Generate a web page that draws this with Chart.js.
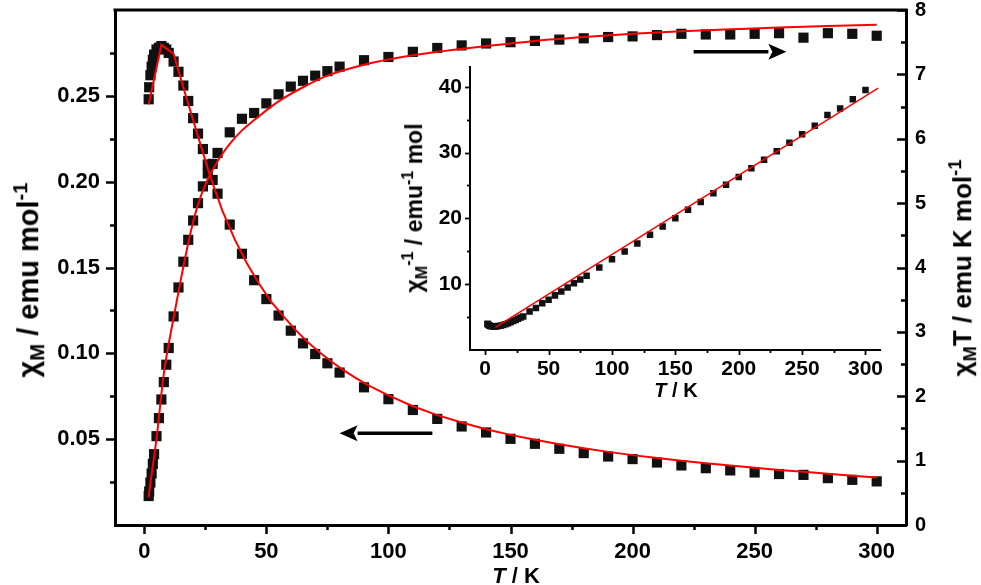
<!DOCTYPE html>
<html>
<head>
<meta charset="utf-8">
<script src="https://cdn.jsdelivr.net/npm/chart.js@4.4.1/dist/chart.umd.min.js"></script>
<style>
  html, body { margin: 0; padding: 0; background: #fff; }
  #wrap { position: relative; width: 981px; height: 585px; overflow: hidden; background: #fff; }
  #main { position: absolute; left: 0; top: 0; }
  #inset { position: absolute; left: 380px; top: 40px; }
  .t { position: absolute; font-family: "Liberation Sans", Arial, sans-serif; font-weight: bold; color: #000; white-space: nowrap; line-height: 1; }
  .rot { transform: translate(-50%, -50%) rotate(-90deg); }
  .hor { transform: translate(-50%, -50%); }
  .sb { font-size: 70%; vertical-align: -0.3em; }
  .sp { font-size: 70%; vertical-align: 0.55em; }
</style>
</head>
<body>
<div id="wrap">
  <canvas id="main" width="981" height="585"></canvas>
  <canvas id="inset" width="520" height="360"></canvas>
  <div class="t rot" id="ttlLeft" style="left:29px; top:280px; font-size:29px;">&chi;<span class="sb">M</span> / emu mol<span class="sp">-1</span></div>
  <div class="t rot" id="ttlRight" style="left:963px; top:268px; font-size:26px;">&chi;<span class="sb">M</span>T / emu K mol<span class="sp">-1</span></div>
  <div class="t hor" id="ttlX" style="left:516px; top:576px; font-size:22px;"><i>T</i> / K</div>
  <div class="t hor" id="ttlInsetX" style="left:676px; top:390px; font-size:20px;"><i>T</i> / K</div>
  <div class="t rot" id="ttlInsetY" style="left:414px; top:208px; font-size:23px;">&chi;<span class="sb">M</span><span class="sp">-1</span> / emu<span class="sp">-1</span> mol</div>
</div>
<script>
// ---------------- data ----------------
const temps = [1.8, 2, 2.5, 3, 3.5, 4, 5, 6, 7, 8, 9, 10,
  12, 14, 16, 18, 20, 22, 24, 26, 28, 30,
  35, 40, 45, 50, 55, 60, 65, 70, 75, 80,
  90, 100, 110, 120, 130, 140, 150, 160, 170, 180, 190, 200,
  210, 220, 230, 240, 250, 260, 270, 280, 290, 300];

const chiM = [0.248, 0.255, 0.262, 0.267, 0.271, 0.274, 0.277, 0.278, 0.279, 0.278, 0.277, 0.275,
  0.270, 0.264, 0.256, 0.247, 0.237, 0.228, 0.219, 0.210, 0.201, 0.193,
  0.175, 0.158, 0.1426, 0.1316, 0.122, 0.1132, 0.1058, 0.0996, 0.0942, 0.0888,
  0.0802, 0.0733, 0.067, 0.0618, 0.0574, 0.0539, 0.0502, 0.0473, 0.0444, 0.0419, 0.0399, 0.0384,
  0.0364, 0.0347, 0.0331, 0.0318, 0.0306, 0.0297, 0.0292, 0.0273, 0.0263, 0.0254];

const chiMT = [0.45, 0.52, 0.66, 0.80, 0.95, 1.10, 1.38, 1.66, 1.95, 2.22, 2.49, 2.75,
  3.24, 3.69, 4.09, 4.43, 4.73, 5.00, 5.26, 5.46, 5.61, 5.78,
  6.10, 6.31, 6.40, 6.55, 6.69, 6.81, 6.90, 6.98, 7.05, 7.12,
  7.22, 7.27, 7.35, 7.41, 7.45, 7.48, 7.50, 7.52, 7.54, 7.56, 7.58, 7.59,
  7.61, 7.63, 7.62, 7.62, 7.63, 7.64, 7.57, 7.64, 7.63, 7.60];

const invChiM = [4.0, 3.92, 3.82, 3.75, 3.69, 3.65, 3.61, 3.60, 3.58, 3.60, 3.61, 3.64,
  3.70, 3.79, 3.91, 4.05, 4.22, 4.39, 4.57, 4.76, 4.95, 5.10,
  5.85, 6.39, 7.10, 7.65, 8.30, 8.90, 9.50, 10.15, 10.70, 11.30,
  12.55, 13.80, 14.97, 16.20, 17.50, 18.76, 20.00, 21.30, 22.50, 23.80, 25.10, 26.30,
  27.60, 28.90, 30.20, 31.50, 32.80, 34.06, 35.70, 36.70, 38.10, 39.50];

// fitted curves (red)
const fitChiT = [1.8, 7, 12, 17, 22, 27, 32, 37, 42, 47, 52, 57, 62, 67, 72, 77, 82, 87, 92,
  100, 110, 120, 130, 140, 150, 160, 170, 180, 190, 200, 210, 220, 230, 240, 250, 260, 270, 280, 290, 300];
const fitChi = [0.245, 0.2797, 0.2744, 0.250, 0.2264, 0.203, 0.183, 0.1665, 0.1525, 0.1405, 0.130, 0.1215,
  0.1135, 0.1065, 0.1003, 0.0948, 0.0898, 0.0853, 0.0812,
  0.0755, 0.0692, 0.064, 0.0597, 0.0558, 0.0525, 0.0496, 0.047, 0.0447, 0.0426, 0.0407,
  0.039, 0.0374, 0.036, 0.0346, 0.0333, 0.0321, 0.031, 0.0298, 0.0287, 0.0277];

const fitChiMTT = [1.8, 2, 5, 8, 12, 15, 19, 22, 24.5, 27, 31, 35, 40, 45, 55, 65, 75, 90, 100,
  120, 140, 160, 180, 200, 220, 240, 260, 280, 300];
const fitChiMT = [0.43, 0.50, 1.34, 2.35, 3.22, 3.82, 4.55, 4.98, 5.24, 5.45, 5.71, 5.92, 6.13, 6.29,
  6.58, 6.80, 6.98, 7.15, 7.23, 7.35, 7.44, 7.52, 7.58, 7.63, 7.67, 7.70, 7.73, 7.75, 7.77];

const fitInvT = [8, 310];
const fitInv = [3.45, 39.8];

// tick values
const xMajor = [0, 50, 100, 150, 200, 250, 300];
const xMinor = [25, 75, 125, 175, 225, 275];
const yMajor = [0.05, 0.10, 0.15, 0.20, 0.25];
const yMinor = [0.025, 0.075, 0.125, 0.175, 0.225, 0.275];
const y2Major = [0, 1, 2, 3, 4, 5, 6, 7, 8];
const y2Minor = [0.5, 1.5, 2.5, 3.5, 4.5, 5.5, 6.5, 7.5];
const insetYMajor = [10, 20, 30, 40];
const insetYMinor = [5, 15, 25, 35];

// arrows (data coordinates): [fromT, toT, level]
const arrowChi = [118, 80, 0.0535];
const arrowChiT = [225, 263, 7.35];

// ---------------- helpers ----------------
const FONT = '"Liberation Sans", Arial, sans-serif';
const pts = (xs, ys) => xs.map((x, i) => ({ x, y: ys[i] }));

function tickPlugin(id, defs, width, topBorder) {
  return {
    id,
    afterDraw(chart) {
      const ctx = chart.ctx;
      ctx.save();
      ctx.strokeStyle = '#000';
      ctx.lineWidth = width;
      ctx.lineCap = 'butt';
      defs.forEach(d => {
        const s = chart.scales[d.scale];
        [[d.major, d.majorLen], [d.minor, d.minorLen]].forEach(([vals, len]) => {
          vals.forEach(v => {
            const p = Math.round(s.getPixelForValue(v)) + 0.5;
            ctx.beginPath();
            if (d.side === 'bottom') { ctx.moveTo(p, s.top); ctx.lineTo(p, s.top + len); }
            else if (d.side === 'left') { ctx.moveTo(s.right, p); ctx.lineTo(s.right - len, p); }
            else if (d.side === 'rightIn') { ctx.moveTo(s.left, p); ctx.lineTo(s.left - len, p); }
            ctx.stroke();
          });
        });
      });
      if (topBorder) {
        const a = chart.chartArea;
        ctx.lineWidth = topBorder;
        ctx.beginPath();
        ctx.moveTo(a.left - 1.5, a.top);
        ctx.lineTo(a.right + 1.5, a.top);
        ctx.stroke();
      }
      ctx.restore();
    }
  };
}

const arrowPlugin = {
  id: 'arrows',
  afterDraw(chart) {
    const ctx = chart.ctx;
    const xs = chart.scales.x;
    const draw = (arr, yScale) => {
      const x0 = xs.getPixelForValue(arr[0]);
      const x1 = xs.getPixelForValue(arr[1]);
      const y = yScale.getPixelForValue(arr[2]);
      const dir = Math.sign(x1 - x0);
      const head = 18, half = 8;
      ctx.save();
      ctx.strokeStyle = '#000';
      ctx.fillStyle = '#000';
      ctx.lineWidth = 3.5;
      ctx.beginPath();
      ctx.moveTo(x0, y);
      ctx.lineTo(x1 - dir * head, y);
      ctx.stroke();
      ctx.beginPath();
      ctx.moveTo(x1, y);
      ctx.lineTo(x1 - dir * head, y - half);
      ctx.lineTo(x1 - dir * (head - 4), y);
      ctx.lineTo(x1 - dir * head, y + half);
      ctx.closePath();
      ctx.fill();
      ctx.restore();
    };
    draw(arrowChi, chart.scales.y);
    draw(arrowChiT, chart.scales.y2);
  }
};

const setTicks = vals => s => { s.ticks = vals.map(v => ({ value: v })); };
const fixW = w => s => { s.width = w; s.paddingTop = 0; s.paddingBottom = 0; };
const fixH = h => s => { s.height = h; s.paddingLeft = 0; s.paddingRight = 0; };

// ---------------- main chart ----------------
new Chart(document.getElementById('main'), {
  type: 'scatter',
  data: {
    datasets: [
      { label: 'fit chi', data: pts(fitChiT, fitChi), yAxisID: 'y', showLine: true, borderColor: '#ff0000',
        borderWidth: 2, pointRadius: 0, tension: 0, order: 0 },
      { label: 'fit chiT', data: pts(fitChiMTT, fitChiMT), yAxisID: 'y2', showLine: true, borderColor: '#ff0000',
        borderWidth: 2, pointRadius: 0, cubicInterpolationMode: 'monotone', order: 0 },
      { label: 'chi', data: pts(temps, chiM), yAxisID: 'y', pointStyle: 'rect', pointRadius: 7.2,
        backgroundColor: '#111', borderColor: '#111', borderWidth: 0, order: 1 },
      { label: 'chiT', data: pts(temps, chiMT), yAxisID: 'y2', pointStyle: 'rect', pointRadius: 7.2,
        backgroundColor: '#111', borderColor: '#111', borderWidth: 0, order: 1 }
    ]
  },
  options: {
    responsive: false,
    animation: false,
    devicePixelRatio: 1,
    layout: { padding: { top: 10, left: 0, right: 0, bottom: 0 } },
    plugins: { legend: { display: false }, tooltip: { enabled: false } },
    scales: {
      x: {
        type: 'linear', position: 'bottom', min: -12, max: 312,
        afterBuildTicks: setTicks(xMajor), afterFit: fixH(60),
        grid: { display: false, drawTicks: false },
        border: { display: true, width: 3, color: '#000' },
        ticks: { autoSkip: false, maxRotation: 0, padding: 14, color: '#000',
          font: { family: FONT, size: 22, weight: 'bold' }, callback: v => String(v) }
      },
      y: {
        type: 'linear', position: 'left', min: 0, max: 0.30,
        afterBuildTicks: setTicks(yMajor), afterFit: fixW(115),
        grid: { display: false, drawTicks: false },
        border: { display: true, width: 3, color: '#000' },
        ticks: { autoSkip: false, padding: 15, color: '#000',
          font: { family: FONT, size: 22, weight: 'bold' }, callback: v => Number(v).toFixed(2) }
      },
      y2: {
        type: 'linear', position: 'right', min: 0, max: 8,
        afterBuildTicks: setTicks(y2Major), afterFit: fixW(75),
        grid: { display: false, drawTicks: false },
        border: { display: true, width: 3, color: '#000' },
        ticks: { autoSkip: false, padding: 9, color: '#000',
          font: { family: FONT, size: 20, weight: 'bold' }, callback: v => String(v) }
      }
    }
  },
  plugins: [
    tickPlugin('mainTicks', [
      { scale: 'x', side: 'bottom', major: xMajor, minor: xMinor, majorLen: 9, minorLen: 5 },
      { scale: 'y', side: 'left', major: yMajor, minor: yMinor, majorLen: 9, minorLen: 5 },
      { scale: 'y2', side: 'rightIn', major: y2Major, minor: y2Minor, majorLen: 9, minorLen: 5 }
    ], 2.5, 3),
    arrowPlugin
  ]
});

// ---------------- inset chart ----------------
new Chart(document.getElementById('inset'), {
  type: 'scatter',
  data: {
    datasets: [
      { label: 'fit inv', data: pts(fitInvT, fitInv), showLine: true, borderColor: '#ff0000',
        borderWidth: 1.5, pointRadius: 0, tension: 0, order: 0 },
      { label: 'inv chi', data: pts(temps, invChiM), pointStyle: 'rect', pointRadius: 4.6,
        backgroundColor: '#111', borderColor: '#111', borderWidth: 0, order: 1 }
    ]
  },
  options: {
    responsive: false,
    animation: false,
    devicePixelRatio: 1,
    layout: { padding: { top: 27, left: 0, right: 19.3, bottom: 0 } },
    plugins: { legend: { display: false }, tooltip: { enabled: false } },
    scales: {
      x: {
        type: 'linear', position: 'bottom', min: -12, max: 312,
        afterBuildTicks: setTicks(xMajor), afterFit: fixH(50),
        grid: { display: false, drawTicks: false },
        border: { display: true, width: 2, color: '#000' },
        ticks: { autoSkip: false, maxRotation: 0, padding: 7, color: '#000',
          font: { family: FONT, size: 21, weight: 'bold' }, callback: v => String(v) }
      },
      y: {
        type: 'linear', position: 'left', min: 0, max: 43,
        afterBuildTicks: setTicks(insetYMajor), afterFit: fixW(90),
        grid: { display: false, drawTicks: false },
        border: { display: true, width: 2, color: '#000' },
        ticks: { autoSkip: false, padding: 8, color: '#000',
          font: { family: FONT, size: 21, weight: 'bold' }, callback: v => String(v) }
      }
    }
  },
  plugins: [
    tickPlugin('insetTicks', [
      { scale: 'x', side: 'bottom', major: xMajor, minor: xMinor, majorLen: 5, minorLen: 3 },
      { scale: 'y', side: 'left', major: insetYMajor, minor: insetYMinor, majorLen: 5, minorLen: 3 }
    ], 1.8, 0)
  ]
});
</script>
</body>
</html>
